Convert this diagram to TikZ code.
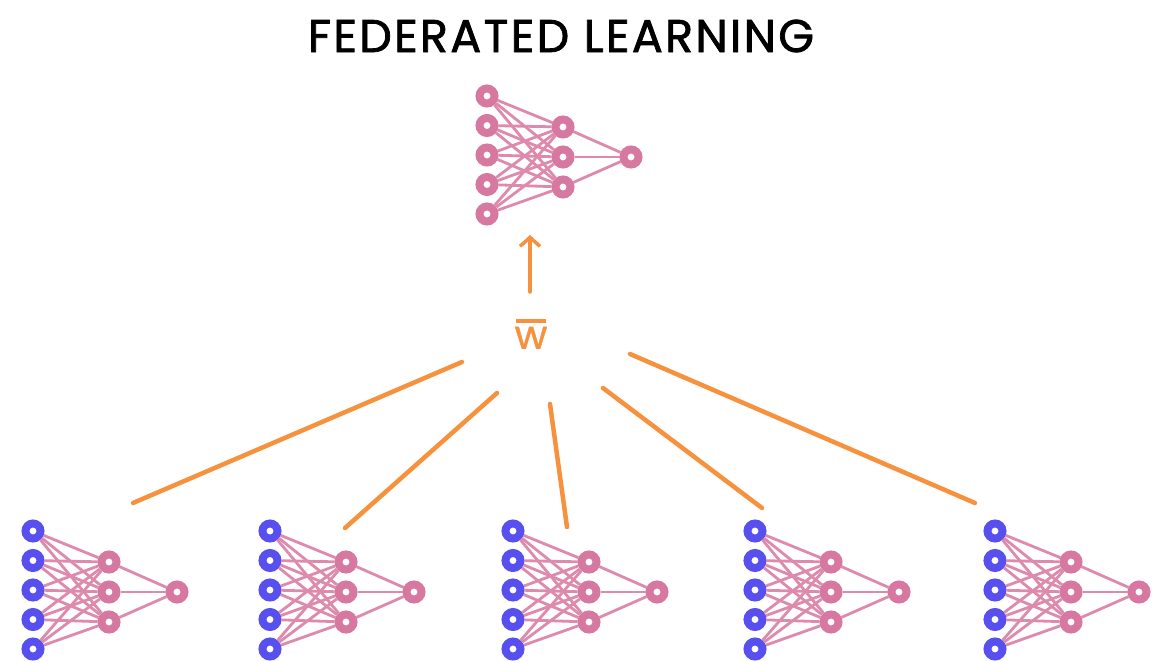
\documentclass[tikz,border=0pt]{standalone}
\usepackage{fontspec}
\setmainfont{Poppins}
\newfontfamily\titlefont[LetterSpace=5, FakeBold=1.6]{Poppins}
\newfontfamily\wfont[FakeBold=1]{Poppins}
\usetikzlibrary{arrows.meta}

\definecolor{nnpink}{RGB}{214,120,160}
\definecolor{nnwire}{RGB}{222,138,172}
\definecolor{nnblue}{RGB}{88,80,238}
\definecolor{nnorange}{RGB}{246,146,62}

\tikzset{
  neuron/.style={circle, draw=#1, line width=8pt, fill=white,
                 minimum size=15pt, inner sep=0pt},
  wire/.style={draw=nnwire, line width=2.8pt},
  link/.style={draw=nnorange, line width=4.5pt, line cap=round},
  uparrow/.style={draw=nnorange, line width=3.5pt, line cap=round,
                  -{Straight Barb[length=9pt, width=20pt, line width=3.5pt]}},
}

% small perceptron: name, x, y of the top input, input colour
\newcommand{\mlnet}[4]{%
  \foreach \k in {1,...,5}
    \node[neuron=#4] (#1i\k) at (#2, #3+29.5*\k-29.5) {};
  \foreach \k in {1,2,3}
    \node[neuron=nnpink] (#1h\k) at (#2+76, #3+31+30*\k-30) {};
  \node[neuron=nnpink] (#1o) at (#2+144, #3+61) {};
  \foreach \a in {1,...,5}
    \foreach \b in {1,2,3}
      \draw[wire] (#1i\a) -- (#1h\b);
  \foreach \b in {1,2,3}
    \draw[wire] (#1h\b) -- (#1o);
}

\begin{document}
\begin{tikzpicture}[x=1pt, y=-1pt]
  \useasboundingbox (0,0) rectangle (1152,661);

  % title
  \node[font=\titlefont\fontsize{46}{50}\selectfont] (title) at (561,36)
    {FEDERATED LEARNING};

  % global model
  \mlnet{g}{487}{96}{nnpink}

  % client models
  \mlnet{a}{33}{531}{nnblue}
  \mlnet{b}{270}{531}{nnblue}
  \mlnet{c}{513}{531}{nnblue}
  \mlnet{d}{755}{531}{nnblue}
  \mlnet{e}{995}{531}{nnblue}

  % averaged weights
  \node[text=nnorange, align=center, inner sep=0pt,
        font=\wfont\fontsize{40}{40}\selectfont] (w) at (531,334)
    {\rule{30pt}{3.5pt}\\[-14pt]w};

  % aggregation links
  \coordinate (a1) at (133,503);  \coordinate (a2) at (462,362);
  \coordinate (b1) at (345,528);  \coordinate (b2) at (497,393);
  \coordinate (c1) at (567,527);  \coordinate (c2) at (550,404);
  \coordinate (d1) at (762,508);  \coordinate (d2) at (603,388);
  \coordinate (e1) at (975,503);  \coordinate (e2) at (630,354);
  \draw[link] (a1) -- (a2);
  \draw[link] (b1) -- (b2);
  \draw[link] (c1) -- (c2);
  \draw[link] (d1) -- (d2);
  \draw[link] (e1) -- (e2);

  % update sent to the global model
  \coordinate (up0) at (530,292);
  \coordinate (up1) at (530,235);
  \draw[uparrow] (up0) -- (up1);
\end{tikzpicture}
\end{document}
